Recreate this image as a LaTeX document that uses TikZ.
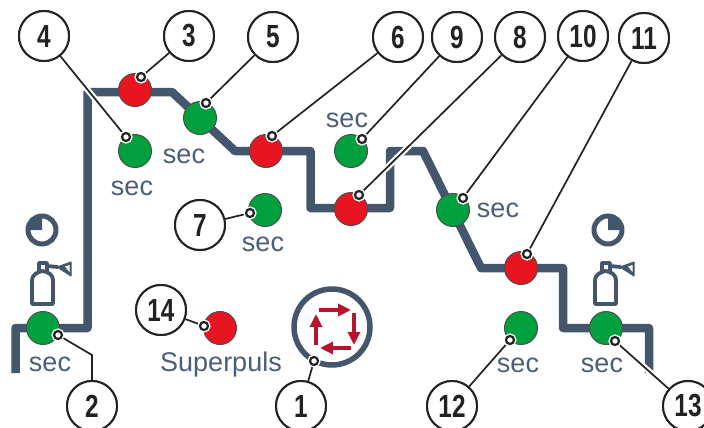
\documentclass[tikz,border=0pt]{standalone}
\usepackage{fontspec}
\setmainfont{Liberation Sans}
\newfontfamily\numfont[FakeStretch=0.76]{Liberation Sans Bold}
\usetikzlibrary{arrows.meta}
\definecolor{linec}{HTML}{44566C}
\definecolor{textc}{HTML}{4A5E78}
\definecolor{gr}{HTML}{00A03E}
\definecolor{rd}{HTML}{E8141F}
\definecolor{arr}{HTML}{B5152F}
\definecolor{ink}{HTML}{222222}
\tikzset{
  gasline/.style={draw=linec,line width=8.5pt,line join=round},
  dotg/.style={circle,draw=ink!80,line width=1pt,fill=gr,minimum size=33pt,inner sep=0pt},
  dotr/.style={circle,draw=ink!80,line width=1pt,fill=rd,minimum size=33pt,inner sep=0pt},
  call/.style={circle,draw=ink,line width=2pt,fill=white,minimum size=50pt,inner sep=0pt,text=ink,font=\numfont\fontsize{32}{34}\selectfont},
  pinmark/.style={circle,draw=ink,line width=2.2pt,fill=white,minimum size=8pt,inner sep=0pt,preaction={draw=white,line width=5pt}},
  lead/.style={draw=ink,line width=1.7pt},
  leadhalo/.style={draw=white,line width=6pt},
  lab/.style={anchor=base,text=textc,inner sep=0pt,font=\fontsize{27}{30}\selectfont},
  loopring/.style={draw=linec,line width=5.5pt},
  looparrow/.style={draw=arr,line width=3.2pt,-{Triangle[length=13pt,width=12pt]}},
  icon/.style={draw=linec,line width=3.8pt,line join=round},
  clockring/.style={draw=linec,line width=5pt},
  iconfill/.style={fill=linec,draw=linec,line width=1pt,line join=round}
}
\begin{document}
\begin{tikzpicture}[x=1pt,y=-1pt]
\useasboundingbox (0,0) rectangle (704,428);
\fill[white] (0,0) rectangle (704,428);
% gas line
\draw[gasline] (15.5,373) -- (15.5,328) -- (87.5,328) -- (87.5,92) -- (172,92) -- (235,151) -- (310.5,151) -- (310.5,208) -- (390,208) -- (390,151) -- (423,151) -- (481,268) -- (563,268) -- (563,328) -- (649,328) -- (649,373);
% ring
\draw[loopring] (332,327) circle (38);
\draw[looparrow] (319,310) -- (351,310);
\draw[looparrow] (354,313) -- (354,345);
\draw[looparrow] (351,348) -- (320,348);
\draw[looparrow] (316,345) -- (316,314);
% clocks
\draw[clockring] (42,230) circle (14);
\fill[linec] (42,230) -- (42,216) arc[start angle=90,end angle=180,radius=14pt] -- cycle;
\draw[clockring] (608,230) circle (14);
\fill[linec] (608,230) -- (608,216) arc[start angle=90,end angle=0,radius=14pt] -- cycle;
% bottles
\foreach \dx in {0,563}{
\begin{scope}[xshift=\dx pt]
\draw[icon] (32,304) -- (32,281) .. controls (32,274) and (38,272) .. (42.5,271) .. controls (48,272) and (53,274) .. (53,281) -- (53,304) -- cycle;
\draw[icon] (39,271) -- (39,263) -- (47,263) -- (47,271);
\draw[icon] (47,266) -- (58,267);
\draw[iconfill] (57,267) -- (71,262) -- (71,276) -- cycle;
\fill[white] (65,266.5) -- (69.5,265) -- (69.5,272) -- cycle;
\end{scope}}
% dots
\node[dotr] (d3) at (135,90) {};
\node[dotg] (d5) at (200,118) {};
\node[dotg] (d4) at (135,151) {};
\node[dotr] (d6) at (266,151) {};
\node[dotg] (d9) at (351,151) {};
\node[dotr] (d8) at (351,209) {};
\node[dotg] (d10) at (453,210) {};
\node[dotr] (d11) at (521,268) {};
\node[dotg] (d7) at (265,210) {};
\node[dotr] (d14) at (220,328) {};
\node[dotg] (d12) at (521,328) {};
\node[dotg] (d13) at (606,328) {};
\node[dotg] (d2) at (43,328) {};
% callouts
\node[call] (c4) at (44,36) {4};
\node[call] (c3) at (189,36) {3};
\node[call] (c5) at (273,37) {5};
\node[call] (c6) at (398,37) {6};
\node[call] (c9) at (457,37) {9};
\node[call] (c8) at (520,37) {8};
\node[call] (c10) at (583,36) {10};
\node[call] (c11) at (644,38) {11};
\node[call] (c7) at (200,225) {7};
\node[call] (c14) at (161,310) {14};
\node[call] (c1) at (301,406) {1};
\node[call] (c2) at (92,406) {2};
\node[call] (c12) at (452,406) {12};
\node[call] (c13) at (688,406) {13};
% pin coordinates
\coordinate (q4) at (126,137);
\coordinate (q3) at (141,77);
\coordinate (q5) at (206,103);
\coordinate (q6) at (272,136);
\coordinate (q9) at (362,139);
\coordinate (q8) at (359,195);
\coordinate (q10) at (463,198);
\coordinate (q11) at (527,254);
\coordinate (q7) at (250,213);
\coordinate (q14) at (204,326);
\coordinate (q1) at (314,361);
\coordinate (q2) at (58,335);
\coordinate (q12) at (510,340);
\coordinate (q13) at (615,341);
\coordinate (k2) at (92,355);
% leaders
\foreach \n in {4,3,5,6,9,8,10,11,7,14,1,12,13}{
  \draw[leadhalo] (c\n) -- (q\n);
}
\foreach \n in {4,3,5,6,9,8,10,11,7,14,1,12,13}{
  \draw[lead] (c\n) -- (q\n);
  \node[pinmark] (p\n) at (q\n) {};
}
\draw[lead] (c2) -- (k2) -- (q2);
\node[pinmark] (p2) at (q2) {};
% redraw callouts above the leaders
\node[call] at (c4) {4};
\node[call] at (c3) {3};
\node[call] at (c5) {5};
\node[call] at (c6) {6};
\node[call] at (c9) {9};
\node[call] at (c8) {8};
\node[call] at (c10) {10};
\node[call] at (c11) {11};
\node[call] at (c7) {7};
\node[call] at (c14) {14};
\node[call] at (c1) {1};
\node[call] at (c2) {2};
\node[call] at (c12) {12};
\node[call] at (c13) {13};
% labels
\node[lab] (t4) at (132,195) {sec};
\node[lab] (t5) at (184,163) {sec};
\node[lab] (t9) at (347,127) {sec};
\node[lab] (t7) at (263,251) {sec};
\node[lab] (t10) at (498,217) {sec};
\node[lab] (t2) at (50,371) {sec};
\node[lab] (t12) at (518,372) {sec};
\node[lab] (t13) at (602,372) {sec};
\node[lab] (t14) at (221,371) {Superpuls};
\end{tikzpicture}
\end{document}
